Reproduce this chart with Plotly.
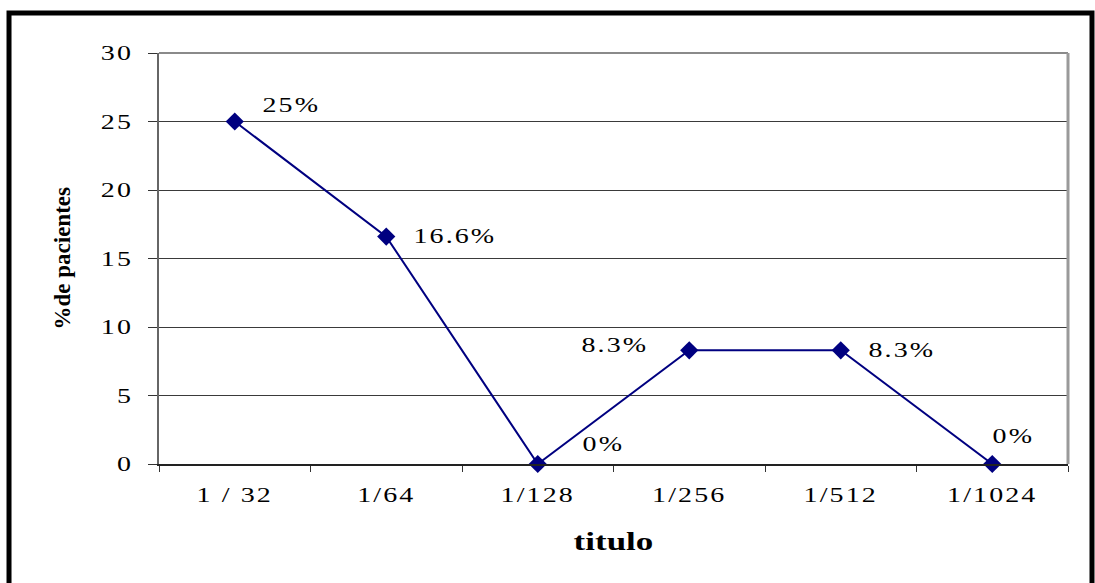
import plotly.graph_objects as go

# Data
categorias = ["1 / 32", "1/64", "1/128", "1/256", "1/512", "1/1024"]
porcentajes = [25, 16.6, 0, 8.3, 8.3, 0]
etiquetas = ["25%", "16.6%", "0%", "8.3%", "8.3%", "0%"]
valores_y = [0, 5, 10, 15, 20, 25, 30]

# Pixel offsets of each data label relative to its point
desp_x = [56, 68, 65, -75, 60, 20]
desp_y = [17, 1, 20, 5, 0, 28]

TNR = "Liberation Serif, Times New Roman, serif"
NAVY = "#000080"

fig = go.Figure()
fig.add_trace(go.Scatter(
    x=categorias,
    y=porcentajes,
    mode="lines+markers",
    line=dict(color=NAVY, width=2),
    marker=dict(symbol="diamond", size=14, color=NAVY),
    cliponaxis=False,
    showlegend=False,
))

anotaciones = []
for cat, val, txt, dx, dy in zip(categorias, porcentajes, etiquetas, desp_x, desp_y):
    anotaciones.append(dict(
        x=cat, y=val, text=txt, showarrow=False,
        xshift=dx + 1, yshift=dy,
        font=dict(family=TNR, size=20, color="black"),
    ))

# Axis titles
anotaciones.append(dict(
    x=0.5, y=-0.189, xref="paper", yref="paper", text="<b>titulo</b>",
    showarrow=False, yanchor="middle",
    font=dict(family=TNR, size=25, color="black"),
))
anotaciones.append(dict(
    x=-0.1067, y=0.5, xref="paper", yref="paper", text="<b>%de pacientes</b>",
    showarrow=False, textangle=-90, xanchor="center", yanchor="middle",
    font=dict(family=TNR, size=23, color="black"),
))

formas = [
    # top and right plot-area edges
    dict(type="line", xref="paper", yref="paper", x0=0, x1=1, y0=1, y1=1,
         line=dict(color="#8a8a8a", width=2)),
    dict(type="line", xref="paper", yref="paper", x0=1, x1=1, y0=0, y1=1,
         line=dict(color="#9a9a9a", width=3)),
    # outer frame
    dict(type="rect", xref="paper", yref="paper",
         x0=-0.165, x1=1.0264, y0=-0.31, y1=1.0973,
         line=dict(color="black", width=5)),
]

fig.update_layout(
    width=1095, height=583,
    margin=dict(l=159, r=27, t=53, b=119),
    paper_bgcolor="white", plot_bgcolor="white",
    annotations=anotaciones,
    shapes=formas,
    font=dict(family=TNR, color="black"),
)

fig.update_xaxes(
    type="category",
    tickson="boundaries",
    ticks="outside", ticklen=6, tickwidth=1, tickcolor="#333",
    showline=True, linecolor="#222", linewidth=2,
    showgrid=False, zeroline=False,
    tickfont=dict(family=TNR, size=20, color="black"),
    ticklabelstandoff=12,
    range=[-0.5, 5.5],
)

fig.update_yaxes(
    range=[0, 30],
    tickvals=valores_y,
    ticks="outside", ticklen=9, tickwidth=1, tickcolor="#333",
    showline=True, linecolor="#666", linewidth=2,
    showgrid=True, gridcolor="#3a3a3a", gridwidth=1,
    zeroline=False,
    tickfont=dict(family=TNR, size=20, color="black"),
    ticklabelstandoff=11,
)

# Horizontally widened serif text for ticks, data labels and the x title
ensanchar = """
var gd = document.getElementById('{plot_id}');
function ancho(t, s, ls) {
  var x = parseFloat(t.getAttribute('x')) || 0;
  var tr = t.getAttribute('transform') || '';
  t.style.letterSpacing = ls + 'px';
  t.setAttribute('transform', tr + ' translate(' + x + ',0) scale(' + s + ',1) translate(' + (-x) + ',0)');
}
gd.querySelectorAll('.xtick text, .ytick text').forEach(function (t) { ancho(t, 1.4, 1.5); });
gd.querySelectorAll('g.annotation').forEach(function (g) {
  var i = parseInt(g.getAttribute('data-index'), 10);
  var t = g.querySelector('text');
  if (!t) return;
  if (i < 6) ancho(t, 1.4, 1.5);
  else if (i === 6) ancho(t, 1.4, 0);
});
"""

fig.write_html("out.html", post_script=ensanchar)
